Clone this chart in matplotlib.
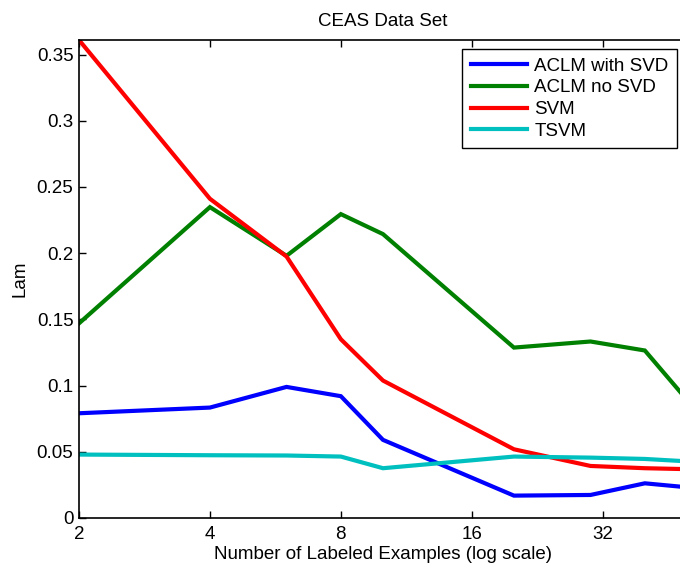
import numpy as np
import matplotlib
matplotlib.use("Agg")
import matplotlib.pyplot as plt
from matplotlib.ticker import FixedLocator, NullLocator

plt.rcParams['font.family'] = ['Liberation Sans', 'DejaVu Sans']

# number of labeled examples
n_labeled = [2, 4, 6, 8, 10, 20, 30, 40, 50]

aclm_svd = [0.0791, 0.0834, 0.0990, 0.0920, 0.0590, 0.0169, 0.0174, 0.0262, 0.0232]
aclm_nosvd = [0.1470, 0.2348, 0.1980, 0.2295, 0.2144, 0.1287, 0.1333, 0.1265, 0.0892]
svm = [0.3610, 0.2411, 0.1975, 0.1350, 0.1038, 0.0519, 0.0393, 0.0376, 0.0369]
tsvm = [0.0479, 0.0474, 0.0472, 0.0464, 0.0376, 0.0464, 0.0456, 0.0446, 0.0428]

series_names = ['ACLM with SVD', 'ACLM no SVD', 'SVM', 'TSVM']
xticks = [2, 4, 8, 16, 32]
yticks = [0, 0.05, 0.1, 0.15, 0.2, 0.25, 0.3, 0.35]
ytick_labels = ['0', '0.05', '0.1', '0.15', '0.2', '0.25', '0.3', '0.35']

fig = plt.figure(figsize=(6.8, 5.71), dpi=100)
# axes runs slightly past the right edge of the image, as in the reference
ax = fig.add_axes([79/680, 53/571, 608/680, 478/571])

colors = ['#0000ff', '#008000', '#ff0000', '#00bfbf']
for ys, name, c in zip([aclm_svd, aclm_nosvd, svm, tsvm], series_names, colors):
    ax.plot(n_labeled, ys, color=c, lw=3, label=name, solid_joinstyle='miter')

ax.set_xscale('log')
ax.set_xlim(2, 50)
ax.set_ylim(0, 0.361)
ax.xaxis.set_major_locator(FixedLocator(xticks))
ax.xaxis.set_minor_locator(NullLocator())
ax.set_xticklabels([str(t) for t in xticks])
ax.set_yticks(yticks)
ax.set_yticklabels(ytick_labels)

ax.tick_params(direction='in', top=True, right=True, length=5, width=1, labelsize=13.5)
ax.tick_params(axis='x', pad=6)
ax.tick_params(axis='y', pad=4)
for s in ax.spines.values():
    s.set_linewidth(1.2)

ax.set_title('CEAS Data Set', fontsize=13.5, pad=10)
ax.set_xlabel('Number of Labeled Examples (log scale)', fontsize=13.5, labelpad=2)
ax.set_ylabel('Lam', fontsize=13.5, labelpad=6)

leg = fig.legend(loc='upper right', bbox_to_anchor=(677/680, 1 - 49/571),
                 bbox_transform=fig.transFigure, borderaxespad=0,
                 fancybox=False, edgecolor='black', framealpha=1,
                 fontsize=13.5, handlelength=3.0, labelspacing=0.25,
                 borderpad=0.45, handletextpad=0.4)
leg.get_frame().set_linewidth(1.0)

fig.savefig('out.png', dpi=100)
